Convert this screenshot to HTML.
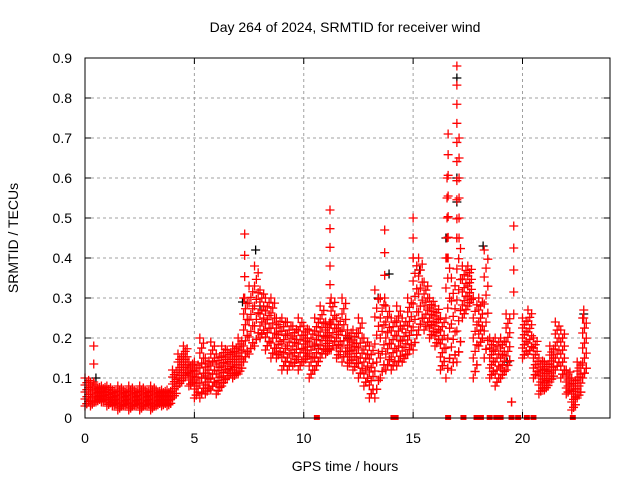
<!DOCTYPE html>
<html><head><meta charset="utf-8"><style>
body{margin:0;background:#fff}
svg{display:block;font-family:"Liberation Sans",sans-serif}
</style></head><body>
<svg id="chart" width="640" height="480">
<rect width="640" height="480" fill="#fff"/>
<g id="grid"></g>
<g id="axes"></g>
<g id="marks"></g>
<rect x="85" y="58" width="525" height="360" fill="none" stroke="#000" stroke-width="1"/>
<text x="345" y="32" text-anchor="middle" font-size="14">Day 264 of 2024, SRMTID for receiver wind</text>
<text x="345" y="471" text-anchor="middle" font-size="14">GPS time / hours</text>
<text transform="translate(18,238) rotate(-90)" text-anchor="middle" font-size="14">SRMTID / TECUs</text>
</svg>
<script>
const xTicks=[0,5,10,15,20];
const yTicks=[0,0.1,0.2,0.3,0.4,0.5,0.6,0.7,0.8,0.9];
const yTickLabels=["0","0.1","0.2","0.3","0.4","0.5","0.6","0.7","0.8","0.9"];
const times=[0,0.25,0.5,0.75,1,1.25,1.5,1.75,2,2.25,2.5,2.75,3,3.25,3.5,3.75,4,4.25,4.5,4.75,5,5.25,5.5,5.75,6,6.25,6.5,6.75,7,7.25,7.5,7.75,8,8.25,8.5,8.75,9,9.25,9.5,9.75,10,10.25,10.5,10.75,11,11.25,11.5,11.75,12,12.25,12.5,12.75,13,13.25,13.5,13.75,14,14.25,14.5,14.75,15,15.25,15.5,15.75,16,16.25,16.5,16.75,17,17.25,17.5,17.75,18,18.25,18.5,18.75,19,19.25,20,20.25,20.5,20.75,21,21.25,21.5,21.75,22,22.25,22.5,22.75];
const lows=[0.03,0.03,0.04,0.04,0.03,0.03,0.02,0.03,0.02,0.03,0.02,0.03,0.02,0.03,0.03,0.03,0.05,0.08,0.10,0.08,0.05,0.05,0.06,0.07,0.06,0.08,0.10,0.10,0.11,0.14,0.16,0.18,0.20,0.17,0.15,0.15,0.12,0.12,0.13,0.12,0.14,0.10,0.12,0.15,0.16,0.17,0.15,0.14,0.13,0.12,0.10,0.08,0.05,0.05,0.10,0.12,0.12,0.13,0.14,0.16,0.17,0.22,0.22,0.20,0.18,0.12,0.10,0.12,0.14,0.25,0.28,0.10,0.18,0.15,0.10,0.08,0.10,0.12,0.15,0.16,0.10,0.06,0.07,0.09,0.12,0.10,0.06,0.02,0.05,0.10];
const highs=[0.10,0.09,0.08,0.08,0.08,0.07,0.08,0.07,0.08,0.07,0.08,0.07,0.08,0.07,0.07,0.07,0.12,0.16,0.18,0.14,0.14,0.20,0.15,0.19,0.16,0.18,0.17,0.18,0.20,0.30,0.33,0.38,0.32,0.30,0.30,0.25,0.25,0.24,0.23,0.25,0.23,0.22,0.25,0.28,0.24,0.30,0.25,0.30,0.22,0.22,0.25,0.20,0.18,0.32,0.30,0.28,0.25,0.28,0.25,0.30,0.40,0.40,0.34,0.30,0.28,0.25,0.40,0.35,0.45,0.38,0.38,0.30,0.30,0.42,0.20,0.20,0.20,0.26,0.25,0.27,0.20,0.15,0.14,0.18,0.24,0.22,0.12,0.10,0.14,0.25];
const spikeTimes=[0.4,7.3,11.2,13.7,15.0,16.6,16.55,17.0,17.1,19.6,19.5,22.8];
const spikeVals=[0.18,0.46,0.52,0.47,0.50,0.71,0.60,0.88,0.70,0.48,0.04,0.27];
const blackTimes=[7.2,7.8,17.0,17.0,17.0,16.5,18.2,15.3,13.4,22.8,19.3,13.9,8.0,10.5,12.0,21.0,5.5,0.5];
const blackVals=[0.29,0.42,0.85,0.60,0.54,0.45,0.43,0.37,0.30,0.26,0.14,0.36,0.28,0.18,0.20,0.12,0.10,0.10];
const zeroTimes=[10.6,14.1,14.2,16.6,17.3,17.9,18.0,18.1,18.5,18.8,19.0,19.5,19.8,20.2,20.5,22.3];

const X0=85,X1=610,Y0=418,Y1=58;
const xs=t=>X0+t/24*(X1-X0);
const ys=v=>Y0-v/0.9*(Y0-Y1);
const NS="http://www.w3.org/2000/svg";
function mk(tag,attrs,parent){const e=document.createElementNS(NS,tag);for(const k in attrs)e.setAttribute(k,attrs[k]);parent.appendChild(e);return e;}
const grid=document.getElementById('grid'),axes=document.getElementById('axes'),marks=document.getElementById('marks');
xTicks.forEach(t=>{const x=xs(t);
 if(t>0){const g=mk('line',{x1:x,y1:Y0,x2:x,y2:Y1,stroke:'#a0a0a0','stroke-dasharray':'3,3'},grid);
 }
 const a=mk('line',{x1:x,y1:Y0,x2:x,y2:Y0-6,stroke:'#000'},axes);
 const b=mk('line',{x1:x,y1:Y1,x2:x,y2:Y1+6,stroke:'#000'},axes);
 const l=mk('text',{x:x,y:443,'text-anchor':'middle','font-size':14},axes);l.textContent=t;
 });
yTicks.forEach((v,i)=>{const y=ys(v);
 if(v>0&&v<0.9){const g=mk('line',{x1:X0,y1:y,x2:X1,y2:y,stroke:'#a0a0a0','stroke-dasharray':'3,3'},grid);
 }
 const a=mk('line',{x1:X0,y1:y,x2:X0+6,y2:y,stroke:'#000'},axes);
 const b=mk('line',{x1:X1,y1:y,x2:X1-6,y2:y,stroke:'#000'},axes);
 const l=mk('text',{x:72,y:y+5,'text-anchor':'end','font-size':14},axes);l.textContent=yTickLabels[i];
 });
function plus(t,v,c){const x=xs(t),y=ys(v);
 const p=mk('path',{d:`M${x-4.5},${y}h9M${x},${y-4.5}v9`,stroke:c,'stroke-width':1.3,fill:'none'},marks);
 }
blackTimes.forEach((t,i)=>plus(t,blackVals[i],'#000'));
times.forEach((t,i)=>{const lo=lows[i],hi=highs[i];
 for(let s=0;s<3;s++){const tt=t+s*0.083;
  for(let k=0;k<=4;k++){plus(tt,lo+(hi-lo)*((k+s*0.33)%4.01)/4,'#f00');}}});
spikeTimes.forEach((t,i)=>{const v=spikeVals[i];
 let j=times.findIndex(tt=>tt>t)-1;if(j<0)j=times.length-1;
 const base=Math.min(highs[j],v);
 const n=Math.max(1,Math.round(Math.abs(v-base)/0.05));
 for(let k=0;k<=n;k++)plus(t,base+(v-base)*k/n,'#f00');});
zeroTimes.forEach(t=>{const r=mk('rect',{x:xs(t)-3,y:Y0-3,width:6,height:5,fill:'#f00'},marks);
 });
</script>
</body></html>
